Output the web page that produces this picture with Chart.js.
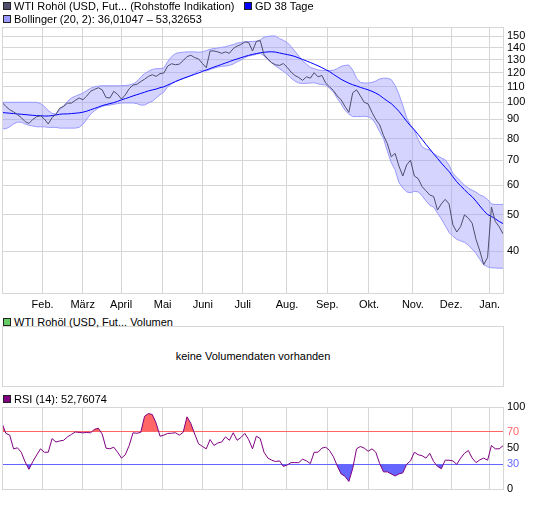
<!DOCTYPE html>
<html>
<head>
<meta charset="utf-8">
<script src="https://cdn.jsdelivr.net/npm/chart.js@4.4.1/dist/chart.umd.min.js"></script>
<style>
  body { margin: 0; width: 545px; height: 509px; position: relative; background: #fff; overflow: hidden;
         font: 11px "Liberation Sans", Arial, sans-serif; color: #000; }
  .lg { position: absolute; height: 13px; line-height: 13px; white-space: nowrap; z-index: 2; }
  .lg i { display: inline-block; width: 6px; height: 6px; border: 1px solid #222; margin-right: 3px; vertical-align: 0px; }
  canvas { position: absolute; left: 0; }
  #vol { position: absolute; left: 2px; top: 326px; width: 500px; height: 59px; border: 1px solid #d6d6d6;
         text-align: center; line-height: 59px; }
</style>
</head>
<body>
<div class="lg" style="left:3px;top:0px"><i style="background:#50506e"></i>WTI Rohöl (USD, Fut... (Rohstoffe Indikation)</div>
<div class="lg" style="left:244px;top:0px"><i style="background:#0000ff"></i>GD 38 Tage</div>
<div class="lg" style="left:3px;top:13px"><i style="background:#9999ff"></i>Bollinger (20, 2): 36,01047 – 53,32653</div>
<canvas id="main" width="545" height="315" style="top:0"></canvas>
<div class="lg" style="left:3px;top:316px"><i style="background:#66cc66"></i>WTI Rohöl (USD, Fut... Volumen</div>
<div id="vol">keine Volumendaten vorhanden</div>
<div class="lg" style="left:3px;top:393px"><i style="background:#800080"></i>RSI (14): 52,76074</div>
<canvas id="rsi" width="545" height="117" style="top:392px"></canvas>
<script>
// one value every second trading day, Jan 2008 - Jan 2009
const price = [100,97.5,95.5,94.3,92.7,91,88.8,87.8,90,91.5,
  92,90.2,87.5,91,93,96.5,97.5,99.5,99.5,101.2,
  102.7,101.6,104,107,108.3,109.4,108,103,102.7,107,
  105,102,104.7,108.7,111.2,111.7,113.6,115.3,117.3,118.5,
  117.3,119.3,119.8,125,126.8,126,126.5,129.2,132.5,133.6,
  131.7,130.6,127,123.7,137.2,137.2,136.4,135.2,136.4,135.2,
  139.2,141.4,142.7,145,144.6,137.2,145.4,146.3,134,130.5,
  127.5,126,125.5,127,124,120.5,118,116.5,114.5,117,
  116,120,117,118,112.5,110,107.5,104,101.5,97.5,
  94,106,108,104,100,99,94,90,87,81.5,
  77.5,71.5,73,67.5,63.5,68,70,63.5,62.5,59.5,
  58,56.5,56,51.5,53.5,55,53.5,47,45,46.5,
  50,49,47.5,43,40,36.8,38.5,52.5,48,46.5,
  44.5];

const bollUpper = [100,100,100,100,100,100,100,100,100,100,
  99.2,97.5,95,93.4,93,95.5,98,100.6,102.7,103.8,
  104.8,105.8,107.5,109,110,110.5,110.7,110.7,110.7,110.7,
  110.7,110.8,110.9,111.2,112,113.6,116.8,119.3,121,122.4,
  123,123,123.5,128.5,132.5,135,135.8,136.1,136.4,136.4,
  136.4,136.1,136.4,137.5,138.6,139.2,139.7,140.3,140.8,141.9,
  142.7,144,144.6,145.1,145.4,145.4,145.7,146.8,149.4,150,
  150.5,150.3,148,146.5,144.5,141,137,133,129,126.5,
  124,123,122,121.7,121.6,121.6,121.8,123,124.8,125.5,
  125.8,122,116,113,112.6,112.6,113,114,115.5,116,
  116,115,111,105,98,91,87,84,79.5,76,
  75,74.5,73,71.8,71,70.2,68,64.5,63,61.5,
  60,59,58.2,57.5,56.5,56,55,53.5,53.3,53.3,
  53.33];

const bollLower = [85,85,86,87.5,88.5,88.5,87.5,86.8,86.4,86,
  86,86,85.7,85.7,85.7,85.3,85.3,85.3,85.3,85.3,
  85.7,87.3,90.2,93,95,96.5,97.5,98.1,98.3,98.8,
  99.2,99.6,99.6,99.6,99.6,99.2,98.3,98.3,99.6,100.6,
  102.7,104.8,106.6,110,112,113.7,114.9,115.8,116.8,117.8,
  119.3,121.3,121.8,121.3,122.4,123.4,124.2,124.8,125,125.5,
  126.6,128.3,129.7,131.7,133,133.6,134.4,135.2,133,130,
  127.5,125,123,121,119,116,114,112.6,112.3,112.4,
  112.6,112.8,112,111.6,111.2,109,106.5,102.5,99,95.2,
  93,91.6,91.6,91.6,91.8,91.5,90.5,87.5,83.4,80,
  74,69,66,61,59,57.6,57.3,57.8,57.6,56.3,
  54.5,53,52.5,50.5,48.8,46.8,44.9,43.8,43,42.6,
  42.2,41.5,40.5,39.4,38,36.8,36.3,36.1,36.05,36,
  36.01];

const gd38 = [93.9,93.7,93.5,93.3,93.1,92.9,92.7,92.5,92.3,92.1,
  92.1,91.9,91.9,92.1,92.5,92.9,93.1,93.1,93.3,93.5,
  93.7,94.1,94.7,95.5,96.3,97.1,98,98.6,99.2,99.8,
  100.6,101.5,102.3,103.1,104,104.8,105.6,106.4,107.3,107.9,
  108.5,109.4,110,111.2,112.4,113.6,114.7,115.8,116.8,117.8,
  118.8,119.8,120.9,122,123.1,124.2,125.2,126.3,127.4,128.5,
  129.6,130.6,131.6,132.6,133.5,134.3,135,135.6,136.1,136.4,
  136.5,136.2,135.5,134.8,134.2,133.5,132.6,131.4,130.2,129,
  127.8,126.5,125.2,123.8,122.3,120.8,118.8,117,115.2,113.8,
  112.5,111.4,110.6,109.6,108.8,108,107,105.8,104.4,102.5,
  100.8,99.2,97,94.6,91.8,89,86.5,84.4,82,79.6,
  77.2,75,72.8,70.8,68.8,67,65.3,63.2,61.3,59.8,
  58.4,57,55.9,54.4,52.8,51.3,50.1,49.5,48.8,48,
  47.4];

const rsi = [80.3,67.8,65.7,49,50.2,44.8,33,24,33.5,41.4,
  49,44.8,44.8,61.5,57.3,58.6,59.4,63.6,66.5,69.5,
  69,68.5,69,68.5,72.8,74.1,67,49.8,49,51,
  44.8,37.7,41.8,53.1,68.5,68,69,88.7,92,90.8,
  80.3,64.4,65.7,67.8,68,68.6,65.7,69,88,80,
  67,55.2,51.9,49,60.3,53.1,56.1,57.3,63.6,59.4,
  68.6,59.4,62.8,67.8,60.3,49,64.4,61.5,44.8,37.7,
  35.1,33.5,34.3,27.6,29.3,32.2,32.2,32.2,36.4,34.3,
  31,44.8,44.8,49.8,51,46.9,39.3,28,18.4,15.5,
  9.2,25,49,51.9,49.8,46,49,44.8,31,20.9,
  20.9,18.4,15.9,18.4,19.7,30.1,34.3,44.8,41.8,40.6,
  37.7,43.5,33.5,27.6,24.7,35.1,35.1,34.3,30.1,37.7,
  43.5,46.9,37.7,32.2,35.6,37.7,35.1,53.1,49,49,
  52.76];

// month starts, in the same index units as the series
const monthTicks = [10.54, 20.93, 30.9, 41.7, 52.09, 62.48, 73.95, 84.42, 95.22, 106.6, 116.54, 126.54];
const monthNames = ['Feb.', 'März', 'April', 'Mai', 'Juni', 'Juli', 'Aug.', 'Sep.', 'Okt.', 'Nov.', 'Dez.', 'Jan.'];
const priceTicks = [40, 50, 60, 70, 80, 90, 100, 110, 120, 130, 140, 150];
const rsiTicks = [0, 30, 50, 70, 100];

const labels = price.map((_, i) => i);
const gridColor = '#d6d6d6';

Chart.defaults.font.family = '"Liberation Sans", Arial, sans-serif';
Chart.defaults.font.size = 11;
Chart.defaults.color = '#000';

const frame = {
  id: 'frame',
  afterDraw(chart) {
    const { ctx, chartArea: a } = chart;
    ctx.save();
    ctx.strokeStyle = gridColor;
    ctx.lineWidth = 1;
    ctx.strokeRect(a.left + 0.5, a.top + 0.5, a.right - a.left, a.bottom - a.top);
    ctx.restore();
  }
};

const monthAxis = (showLabels) => ({
  type: 'linear',
  min: 0,
  max: labels.length - 1,
  border: { display: false },
  grid: { color: gridColor, drawTicks: false },
  afterBuildTicks: s => { s.ticks = monthTicks.map(v => ({ value: v })); },
  ticks: {
    display: showLabels,
    padding: 5,
    autoSkip: false,
    maxRotation: 0,
    callback: (v, i) => monthNames[i]
  }
});

new Chart(document.getElementById('main'), {
  type: 'line',
  data: {
    labels: labels,
    datasets: [
      { data: price, borderColor: '#4d4d6b', borderWidth: 1, order: 0 },
      { data: gd38, borderColor: '#0000ff', borderWidth: 1, order: 1 },
      { data: bollUpper, borderColor: '#9999ff', borderWidth: 1, fill: '+1',
        backgroundColor: 'rgba(153,153,255,0.42)', order: 2 },
      { data: bollLower, borderColor: '#9999ff', borderWidth: 1, order: 3 }
    ]
  },
  options: {
    responsive: false,
    animation: false,
    layout: { padding: { left: 2, top: 27, right: 0, bottom: 0 } },
    elements: { point: { radius: 0 }, line: { tension: 0 } },
    plugins: { legend: { display: false }, tooltip: { enabled: false } },
    scales: {
      x: Object.assign(monthAxis(true), { afterFit: s => { s.height = 22; } }),
      y: {
        type: 'logarithmic',
        position: 'right',
        min: 30.9,
        max: 159,
        bounds: 'data',
        border: { display: false },
        grid: { color: gridColor, drawTicks: false },
        afterBuildTicks: s => { s.ticks = priceTicks.map(v => ({ value: v })); },
        afterFit: s => { s.width = 42; },
        ticks: { padding: 4, crossAlign: 'near', autoSkip: false, callback: v => String(v) }
      }
    }
  },
  plugins: [frame]
});

const rsiColor = v => v === 70 ? '#ff6666' : v === 30 ? '#6666ff' : null;

new Chart(document.getElementById('rsi'), {
  type: 'line',
  data: {
    labels: labels,
    datasets: [
      { data: rsi, borderColor: '#800080', borderWidth: 1, order: 0,
        fill: { target: { value: 70 }, above: '#ff6666', below: 'rgba(0,0,0,0)' } },
      { data: rsi, borderColor: 'rgba(0,0,0,0)', borderWidth: 0, order: 1,
        fill: { target: { value: 30 }, above: 'rgba(0,0,0,0)', below: '#6666ff' } }
    ]
  },
  options: {
    responsive: false,
    animation: false,
    layout: { padding: { left: 2, top: 15, right: 0, bottom: 20 } },
    elements: { point: { radius: 0 }, line: { tension: 0 } },
    plugins: { legend: { display: false }, tooltip: { enabled: false } },
    scales: {
      x: monthAxis(false),
      y: {
        type: 'linear',
        position: 'right',
        min: 0,
        max: 100,
        border: { display: false },
        grid: { drawTicks: false, color: ctx => rsiColor(ctx.tick.value) || 'rgba(0,0,0,0)' },
        afterBuildTicks: s => { s.ticks = rsiTicks.map(v => ({ value: v })); },
        afterFit: s => { s.width = 42; },
        ticks: { padding: 4, crossAlign: 'near', autoSkip: false,
                 color: ctx => rsiColor(ctx.tick.value) || '#000' }
      }
    }
  },
  plugins: [frame]
});
</script>
</body>
</html>
